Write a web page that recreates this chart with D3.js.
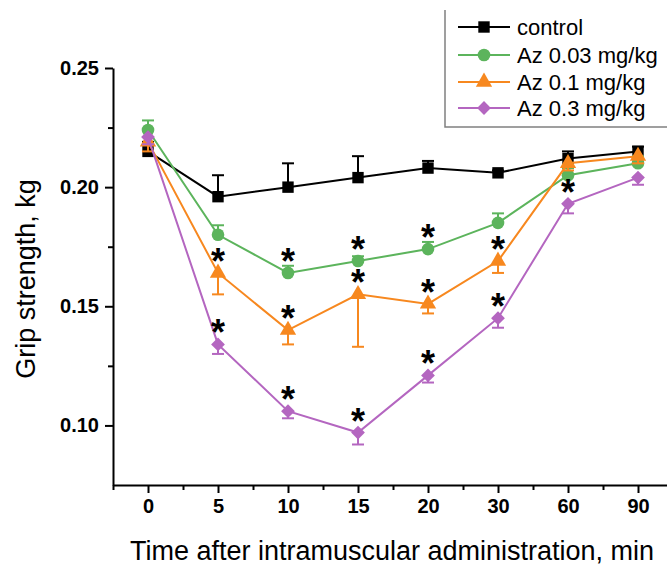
<!DOCTYPE html>
<html>
<head>
<meta charset="utf-8">
<script src="https://cdn.jsdelivr.net/npm/d3@7"></script>
<style>
  body { margin: 0; background: #fff; }
  svg text { font-family: Arial, "Liberation Sans", sans-serif; }
  .axis path, .axis line { stroke: #000; stroke-width: 2; }
  .axis text { font-size: 20px; font-weight: bold; fill: #000; }
</style>
</head>
<body>
<div id="canvas"></div>
<script>
// time points (categorical x axis)
var times = ["0", "5", "10", "15", "20", "30", "60", "90"];

// grip strength means, kg
var control = [0.215, 0.196, 0.200, 0.204, 0.208, 0.206, 0.212, 0.215];
var az003   = [0.224, 0.180, 0.164, 0.169, 0.174, 0.185, 0.205, 0.210];
var az01    = [0.219, 0.164, 0.140, 0.155, 0.151, 0.169, 0.210, 0.213];
var az03    = [0.221, 0.134, 0.106, 0.097, 0.121, 0.145, 0.193, 0.204];

// error bars (one-sided)
var controlErr = [0.004, 0.009, 0.010, 0.009, 0.003, 0.001, 0.003, 0.002];
var az003Err   = [0.004, 0.004, 0.003, 0.002, 0.003, 0.004, 0.003, 0.003];
var az01Err    = [0.004, 0.009, 0.006, 0.022, 0.004, 0.005, 0.003, 0.003];
var az03Err    = [0.003, 0.004, 0.003, 0.005, 0.003, 0.004, 0.004, 0.003];

// indices of points marked with *
var az003Stars = [2, 3, 4];
var az01Stars  = [1, 2, 3, 4, 5];
var az03Stars  = [1, 2, 3, 4, 5, 6];

var yTicks = [0.10, 0.15, 0.20, 0.25];
var yMinor = [0.125, 0.175, 0.225];

var series = [
  {name: "control",       values: control, err: controlErr, dir: -1, color: "#000000", shape: d3.symbolSquare,   size: 130, rot: 0,  stars: []},
  {name: "Az 0.03 mg/kg", values: az003,   err: az003Err,   dir: -1, color: "#5cb45c", shape: d3.symbolCircle,   size: 125, rot: 0,  stars: az003Stars},
  {name: "Az 0.1 mg/kg",  values: az01,    err: az01Err,    dir: 1,  color: "#f7881f", shape: d3.symbolTriangle, size: 115, rot: 0,  stars: az01Stars},
  {name: "Az 0.3 mg/kg",  values: az03,    err: az03Err,    dir: 1,  color: "#b466c0", shape: d3.symbolSquare,   size: 95,  rot: 45, stars: az03Stars}
];

var W = 667, H = 565;
var svg = d3.select('#canvas').append('svg')
    .attr('width', W)
    .attr('height', H);

var x = d3.scaleLinear().domain([-0.5, 7.5]).range([113, 673]);
var y = d3.scaleLinear().domain([0.075, 0.25]).range([485, 68]);

// axes
var axisX = d3.axisBottom(x)
    .tickValues(d3.range(times.length))
    .tickFormat(function(i){ return times[i]; })
    .tickSize(8).tickPadding(6).tickSizeOuter(0);
svg.append('g').attr('class', 'axis')
    .attr('transform', 'translate(0,485)')
    .call(axisX);

var minorX = d3.axisBottom(x)
    .tickValues(d3.range(-0.5, 7.5, 1))
    .tickFormat('').tickSize(5).tickSizeOuter(0);
svg.append('g').attr('class', 'axis')
    .attr('transform', 'translate(0,485)')
    .call(minorX).select('.domain').remove();

var axisY = d3.axisLeft(y)
    .tickValues(yTicks)
    .tickFormat(d3.format('.2f'))
    .tickSize(8).tickPadding(6).tickSizeOuter(0);
svg.append('g').attr('class', 'axis')
    .attr('transform', 'translate(113,0)')
    .call(axisY);

var minorY = d3.axisLeft(y)
    .tickValues(yMinor)
    .tickFormat('').tickSize(5);
svg.append('g').attr('class', 'axis')
    .attr('transform', 'translate(113,0)')
    .call(minorY).select('.domain').remove();

// axis titles
svg.append('text')
    .attr('x', 392).attr('y', 560)
    .attr('text-anchor', 'middle')
    .style('font-size', '27px')
    .text('Time after intramuscular administration, min');

svg.append('text')
    .attr('transform', 'translate(35,279) rotate(-90)')
    .attr('text-anchor', 'middle')
    .style('font-size', '27px')
    .text('Grip strength, kg');

// series
var line = d3.line()
    .x(function(d, i){ return x(i); })
    .y(function(d){ return y(d); });

function place(s, px, py) {
  return 'translate(' + px + ',' + py + ') rotate(' + s.rot + ')';
}

series.forEach(function(s){
  var g = svg.append('g');

  // error bars
  s.values.forEach(function(v, i){
    var y0 = y(v), y1 = y(v - s.dir * s.err[i]);
    g.append('line')
      .attr('x1', x(i)).attr('x2', x(i))
      .attr('y1', y0).attr('y2', y1)
      .attr('stroke', s.color).attr('stroke-width', 2);
    g.append('line')
      .attr('x1', x(i) - 6).attr('x2', x(i) + 6)
      .attr('y1', y1).attr('y2', y1)
      .attr('stroke', s.color).attr('stroke-width', 2);
  });

  g.append('path')
    .datum(s.values)
    .attr('d', line)
    .attr('fill', 'none')
    .attr('stroke', s.color)
    .attr('stroke-width', 2);

  g.selectAll('path.pt')
    .data(s.values)
    .enter()
    .append('path')
    .attr('class', 'pt')
    .attr('d', d3.symbol().type(s.shape).size(s.size))
    .attr('transform', function(d, i){ return place(s, x(i), y(d)); })
    .attr('fill', s.color);
});

// significance stars
series.forEach(function(s){
  s.stars.forEach(function(i){
    svg.append('text')
      .attr('x', x(i))
      .attr('y', y(s.values[i]) + 1)
      .attr('text-anchor', 'middle')
      .style('font-size', '36px')
      .style('font-weight', 'bold')
      .text('*');
  });
});

// legend
var lg = svg.append('g');
lg.append('path')
  .attr('d', 'M445,10V127H667')
  .attr('fill', 'none')
  .attr('stroke', '#808080')
  .attr('stroke-width', 1.5);

var rowY = [27, 55, 82, 108];
series.forEach(function(s, k){
  var ry = rowY[k];
  lg.append('line')
    .attr('x1', 458).attr('x2', 510)
    .attr('y1', ry).attr('y2', ry)
    .attr('stroke', s.color).attr('stroke-width', 2);
  lg.append('path')
    .attr('d', d3.symbol().type(s.shape).size(s.size))
    .attr('transform', place(s, 484, ry))
    .attr('fill', s.color);
  lg.append('text')
    .attr('x', 517).attr('y', ry + 8)
    .style('font-size', '22px')
    .text(s.name);
});
</script>
</body>
</html>
